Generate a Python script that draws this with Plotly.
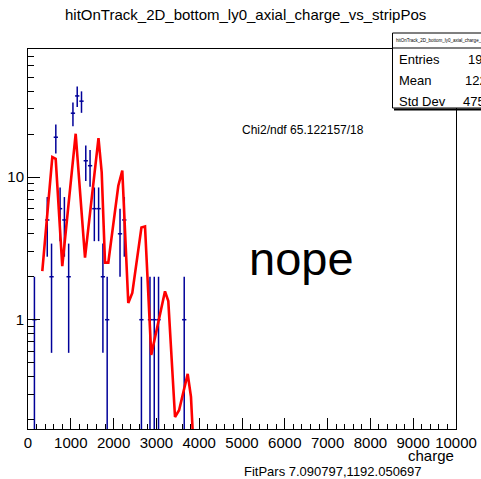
import numpy as np
import plotly.graph_objects as go

# ---- data ----
bin_centers = [150, 450, 550, 650, 750, 850, 950, 1050, 1150, 1250, 1350, 1450,
               1550, 1650, 1750, 1850, 2150, 2250, 2650, 2850, 2950, 3050, 3650]
counts = [1, 5, 2, 19, 6, 5, 2, 28, 37, 34, 13, 12,
          6, 6, 2, 1, 4, 5, 1, 1, 1, 1, 1]
bin_half_width = 50

fit_x = [334, 568, 647, 801, 1114, 1332, 1647, 1722, 1799, 1876, 2110, 2203,
         2343, 2437, 2650, 2734, 2880, 3201, 3278, 3435, 3530, 3731, 3808, 3884]
fit_y = [2.19, 13.8, 13.4, 2.37, 20.1, 2.72, 18.7, 10.8, 2.51, 2.51, 8.69, 11.1,
         1.31, 1.54, 4.42, 4.50, 0.567, 1.58, 1.35, 0.208, 0.232, 0.417, 0.288, 0.1]

x_tickvals = list(range(0, 10001, 1000))
x_ticktext = [str(v) for v in x_tickvals]
y_tickvals = [1, 10]
y_ticktext = ["1", "10"]
y_minor = [0.2, 0.3, 0.4, 0.5, 0.6, 0.7, 0.8, 0.9,
           2, 3, 4, 5, 6, 7, 8, 9, 20, 30, 40, 50, 60, 70]

title = "hitOnTrack_2D_bottom_ly0_axial_charge_vs_stripPos"
stats_labels = ["Entries", "Mean", "Std Dev"]
stats_values = ["193", "1220", "475.3"]
chi2_text = "Chi2/ndf 65.122157/18"
fitpars_text = "FitPars 7.090797,1192.050697"

# ---- layout geometry (pixels) ----
W, H = 481, 479
L, R, T, B = 28, 456, 49, 429


def px(x):
    return (x - L) / (R - L)


def py(y):
    return (B - y) / (B - T)


FONT = "Liberation Sans, Arial, Helvetica, sans-serif"
BLUE = "#000099"

fig = go.Figure()
fig.add_trace(go.Scatter(
    x=bin_centers, y=counts, mode="markers",
    marker=dict(size=1, color=BLUE),
    error_y=dict(type="data", array=list(np.sqrt(counts)), color=BLUE,
                 thickness=1.5, width=0),
    error_x=dict(type="data", array=[bin_half_width] * len(counts), color=BLUE,
                 thickness=1.5, width=0),
    showlegend=False, hoverinfo="skip"))
fig.add_trace(go.Scatter(
    x=fit_x, y=fit_y, mode="lines",
    line=dict(color="red", width=2.6),
    showlegend=False, hoverinfo="skip"))

fig.update_layout(
    width=W, height=H, autosize=False,
    margin=dict(l=L, r=W - R, t=T, b=H - B, pad=0),
    paper_bgcolor="white", plot_bgcolor="white",
    font=dict(family=FONT, color="black", size=15),
    xaxis=dict(range=[0, 10000], tickvals=x_tickvals, ticktext=x_ticktext,
               ticks="inside", automargin=False,
               ticklen=11, tickwidth=1, tickcolor="black",
               showline=True, linecolor="black", linewidth=1, mirror=True,
               showgrid=False, zeroline=False,
               tickfont=dict(size=15, family=FONT),
               minor=dict(dtick=200, tick0=0, ticks="inside", ticklen=5,
                          tickcolor="black", tickwidth=1, showgrid=False)),
    yaxis=dict(type="log", range=[np.log10(0.1714), np.log10(78.9)],
               tickvals=y_tickvals, ticktext=y_ticktext, ticks="inside",
               automargin=False,
               ticklen=12, tickwidth=1, tickcolor="black",
               showline=True, linecolor="black", linewidth=1, mirror=True,
               showgrid=False, zeroline=False,
               tickfont=dict(size=15, family=FONT),
               minor=dict(tickvals=y_minor, ticks="inside", ticklen=6,
                          tickcolor="black", tickwidth=1, showgrid=False)),
)

# stats box
fig.add_shape(type="rect", xref="paper", yref="paper",
              x0=px(392.5), x1=px(520), y0=py(108), y1=py(33),
              line=dict(color="black", width=1), fillcolor="white", layer="above")
fig.add_shape(type="line", xref="paper", yref="paper",
              x0=px(392.5), x1=px(520), y0=py(48), y1=py(48),
              line=dict(color="black", width=1), layer="above")
fig.add_shape(type="line", xref="paper", yref="paper",
              x0=px(394), x1=px(520), y0=py(109.5), y1=py(109.5),
              line=dict(color="black", width=2), layer="above")

ann = []
ann.append(dict(text=title, x=px(245), y=py(15), xanchor="center", yanchor="middle",
                font=dict(size=15)))
ann.append(dict(text=title, x=px(394), y=py(41), xanchor="left", yanchor="middle",
                font=dict(size=4.5)))
for lab, val, yy, vx in zip(stats_labels, stats_values, [60, 80.5, 101],
                            [466, 462.7, 461.3]):
    ann.append(dict(text=lab, x=px(397), y=py(yy), xanchor="left", yanchor="middle",
                    font=dict(size=13)))
    ann.append(dict(text=val, x=px(vx), y=py(yy), xanchor="left", yanchor="middle",
                    font=dict(size=13)))
ann.append(dict(text=chi2_text, x=px(240), y=py(130), xanchor="left", yanchor="middle",
                font=dict(size=12)))
ann.append(dict(text="nope", x=px(247), y=py(258), xanchor="left", yanchor="middle",
                font=dict(size=47)))
ann.append(dict(text="charge", x=px(456), y=py(455), xanchor="right", yanchor="middle",
                font=dict(size=15)))
ann.append(dict(text=fitpars_text, x=px(242.3), y=py(471.7), xanchor="left",
                yanchor="middle", font=dict(size=13)))
for a in ann:
    a.update(xref="paper", yref="paper", showarrow=False)
fig.update_layout(annotations=ann)

fig.write_html("out.html")
